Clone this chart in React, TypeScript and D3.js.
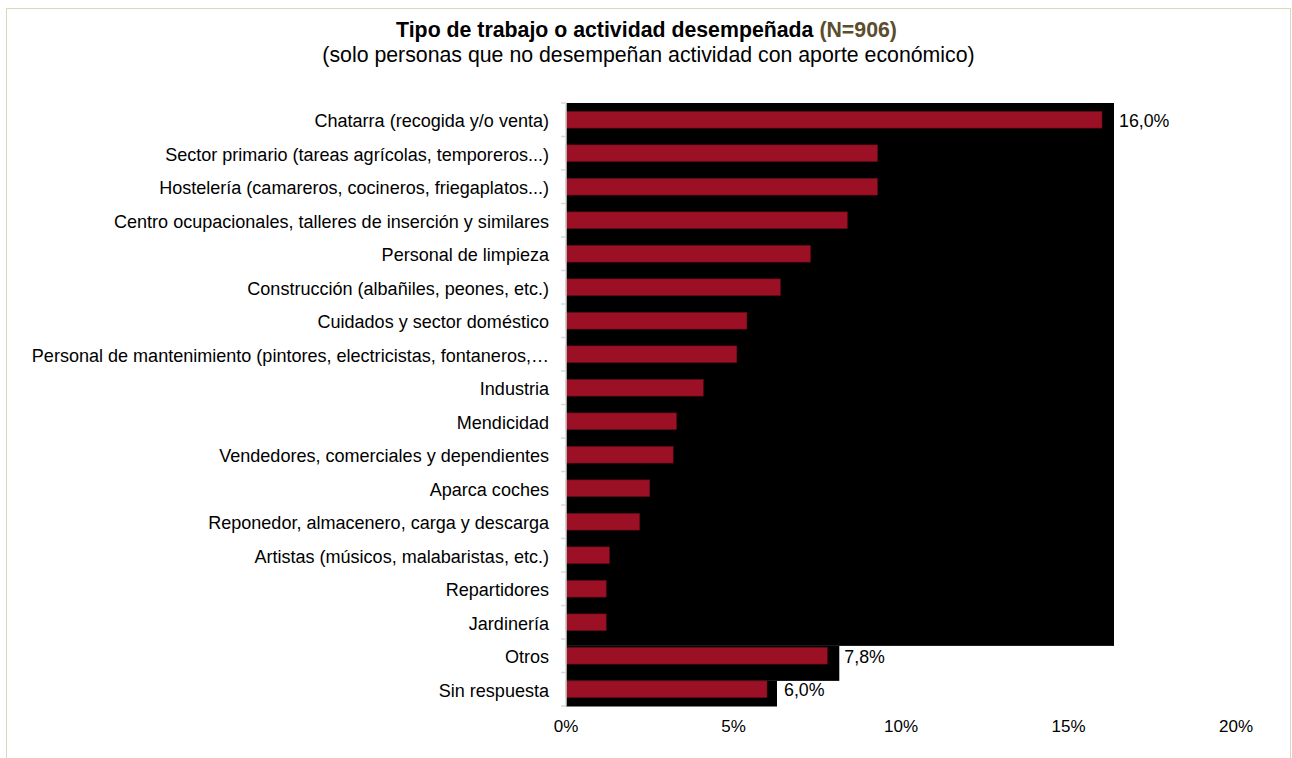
import React from "react";
import * as d3 from "d3";

const categories = [
  "Chatarra (recogida y/o venta)",
  "Sector primario (tareas agrícolas, temporeros...)",
  "Hostelería (camareros, cocineros, friegaplatos...)",
  "Centro ocupacionales, talleres de inserción y similares",
  "Personal de limpieza",
  "Construcción (albañiles, peones, etc.)",
  "Cuidados y sector doméstico",
  "Personal de mantenimiento (pintores, electricistas, fontaneros,…",
  "Industria",
  "Mendicidad",
  "Vendedores, comerciales y dependientes",
  "Aparca coches",
  "Reponedor, almacenero, carga y descarga",
  "Artistas (músicos, malabaristas, etc.)",
  "Repartidores",
  "Jardinería",
  "Otros",
  "Sin respuesta",
];
const values = [16.0, 9.3, 9.3, 8.4, 7.3, 6.4, 5.4, 5.1, 4.1, 3.3, 3.2, 2.5, 2.2, 1.3, 1.2, 1.2, 7.8, 6.0];
const labelled = ["Chatarra (recogida y/o venta)", "Otros", "Sin respuesta"];
const xTicks = [0, 5, 10, 15, 20];

const W = 1292;
const H = 758;
const FONT = "Arial, 'Liberation Sans', sans-serif";

export default function App() {
  const x = d3.scaleLinear().domain([0, 20]).range([566, 1236]);
  const y = d3.scaleBand<string>().domain(categories).range([103, 706]).paddingInner(0.5).paddingOuter(0.25);
  const step = y.step();
  const bandTop = (c: string) => (y(c) as number) - step * 0.25;
  const fmt = (v: number) => v.toFixed(1).replace(".", ",") + "%";

  const otrosStart = (y("Otros") as number) - 1.5;
  const sinStart = y("Sin respuesta") as number;
  const blocks = [
    { y0: 103, y1: otrosStart, x1: x(values[0]) + 12 },
    { y0: otrosStart, y1: sinStart, x1: x(values[16]) + 12 },
    { y0: sinStart, y1: 706.5, x1: x(values[17]) + 10 },
  ];

  return (
    <svg width={W} height={H} style={{ position: "absolute", left: 0, top: 0, display: "block" }} fontFamily={FONT}>
      <rect x={0} y={0} width={W} height={H} fill="#ffffff" />
      <line x1={6.5} y1={8.5} x2={1290.5} y2={8.5} stroke="#d9d6b9" strokeWidth={1} />
      <line x1={6.5} y1={8.5} x2={6.5} y2={H} stroke="#d9d6b9" strokeWidth={1} />
      <line x1={1290.5} y1={8.5} x2={1290.5} y2={H} stroke="#d9d6b9" strokeWidth={1} />

      <text x={646.5} y={37} textAnchor="middle" fontSize={21.3} fontWeight="bold" fill="#000">
        Tipo de trabajo o actividad desempeñada <tspan fill="#5b4d2e">(N=906)</tspan>
      </text>
      <text x={648.5} y={62} textAnchor="middle" fontSize={21.3} fill="#000">
        (solo personas que no desempeñan actividad con aporte económico)
      </text>

      {blocks.map((b, i) => (
        <rect key={i} x={x(0)} y={b.y0} width={b.x1 - x(0)} height={b.y1 - b.y0} fill="#000" />
      ))}

      {categories.map((c, i) => (
        <rect
          key={c}
          x={x(0)}
          y={y(c) as number}
          width={x(values[i]) - x(0)}
          height={y.bandwidth()}
          fill="#9c1025"
          stroke="#5e0a16"
          strokeWidth={0.6}
        />
      ))}

      <line x1={566} y1={103} x2={566} y2={706.5} stroke="#d9d9d9" strokeWidth={1.5} />
      {categories.map((c) => (
        <line key={"t" + c} x1={561} x2={566} y1={bandTop(c)} y2={bandTop(c)} stroke="#d9d9d9" strokeWidth={1.5} />
      ))}
      <line x1={561} x2={566} y1={706} y2={706} stroke="#d9d9d9" strokeWidth={1.5} />

      {categories.map((c) => (
        <text key={"l" + c} x={549} y={(y(c) as number) + y.bandwidth() / 2 + 1} dy="0.35em" textAnchor="end" fontSize={18.05} fill="#000">
          {c}
        </text>
      ))}

      {categories.map((c, i) =>
        labelled.includes(c) ? (
          <text key={"v" + c} x={x(values[i]) + 17} y={(y(c) as number) + y.bandwidth() / 2 + 1} dy="0.35em" fontSize={17.8} fill="#000">
            {fmt(values[i])}
          </text>
        ) : null
      )}

      {xTicks.map((t) => (
        <text key={"x" + t} x={x(t)} y={732} textAnchor="middle" fontSize={17} fill="#000">
          {t + "%"}
        </text>
      ))}
    </svg>
  );
}
